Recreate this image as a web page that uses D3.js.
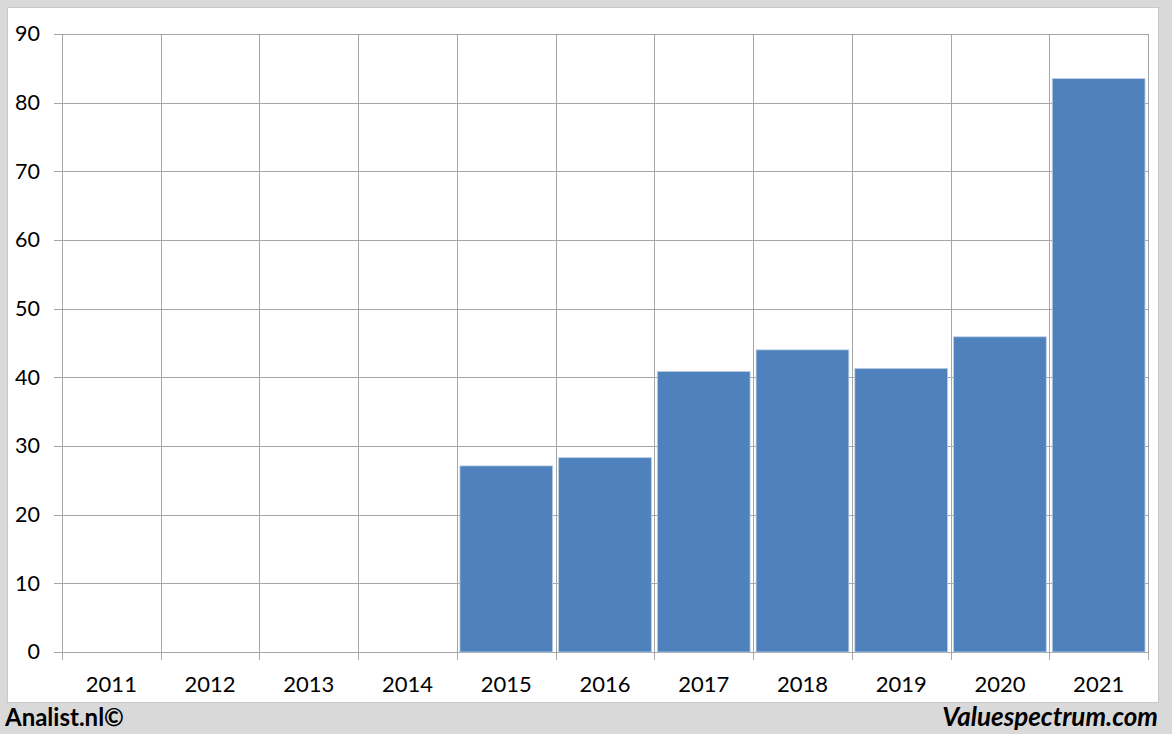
<!DOCTYPE html>
<html><head><meta charset="utf-8">
<script src="https://cdn.jsdelivr.net/npm/d3@7"></script>
<style>body{margin:0;background:#d9d9d9;}svg{display:block;}</style>
</head><body>
<svg id="c" width="1172" height="734"></svg>
<script>
const categories = ["2011","2012","2013","2014","2015","2016","2017","2018","2019","2020","2021"];
const values = [null,null,null,null,27.1,28.3,40.85,44.0,41.3,45.9,83.5];
const yTicks = [0,10,20,30,40,50,60,70,80,90];

(function(){
const svg = d3.select("#c");
const W = 1172, H = 734;
svg.append("rect").attr("width",W).attr("height",H).attr("fill","#d9d9d9");
svg.append("rect").attr("x",7.5).attr("y",7.5).attr("width",1151).attr("height",695).attr("fill","#fff").attr("stroke","#c8c8c8");

const pL=62, pR=1148, pT=34, pB=652;
const xc = d3.scaleBand().domain(categories).range([pL,pR]);
const y = d3.scaleLinear().domain([0,90]).range([pB,pT]);
const font = "Lato, 'Open Sans', sans-serif";

// horizontal gridlines + y ticks
const yAxis = d3.axisLeft(y).tickValues(yTicks).tickSize(pR-pL+8).tickPadding(14).tickFormat(d3.format("d"));
const gy = svg.append("g").attr("transform",`translate(${pR},0)`).call(yAxis);
gy.select(".domain").remove();
gy.selectAll(".tick line").attr("stroke","#a6a6a6").attr("stroke-width",1).attr("shape-rendering","crispEdges");
gy.selectAll(".tick text").attr("font-family",font).attr("font-size",21.5).attr("fill","#000");

// vertical gridlines (category boundaries)
const bounds = categories.map(c=>xc(c)).concat([pR]);
svg.append("g").selectAll("line").data(bounds).join("line")
  .attr("x1",d=>Math.round(d)+0.5).attr("x2",d=>Math.round(d)+0.5)
  .attr("y1",pT).attr("y2",pB+8)
  .attr("stroke","#a6a6a6").attr("stroke-width",1);

// bars
svg.append("g").selectAll("rect").data(categories.map((c,i)=>({c,v:values[i]})).filter(d=>d.v!=null)).join("rect")
  .attr("x",d=>xc(d.c)+3).attr("width",xc.bandwidth()-6)
  .attr("y",d=>y(d.v)).attr("height",d=>pB-y(d.v))
  .attr("fill","#4f81bd").attr("stroke","#b9cde5").attr("stroke-width",0.8);

// x axis labels
const xAxis = d3.axisBottom(xc).tickSize(0).tickPadding(0);
const gx = svg.append("g").attr("transform",`translate(0,${pB+24})`).call(xAxis);
gx.select(".domain").remove();
gx.selectAll(".tick text").attr("font-family",font).attr("font-size",22).attr("fill","#000").attr("dy","0.71em");

// footer
svg.append("text").attr("x",5).attr("y",726).text("Analist.nl©")
  .attr("font-family",font).attr("font-weight","bold").attr("font-size",24).attr("fill","#000");
svg.append("text").attr("x",1158).attr("y",726).attr("text-anchor","end").text("Valuespectrum.com")
  .attr("font-family",font).attr("font-weight","bold").attr("font-style","italic").attr("font-size",26).attr("fill","#000");
})();
</script>
</body></html>
